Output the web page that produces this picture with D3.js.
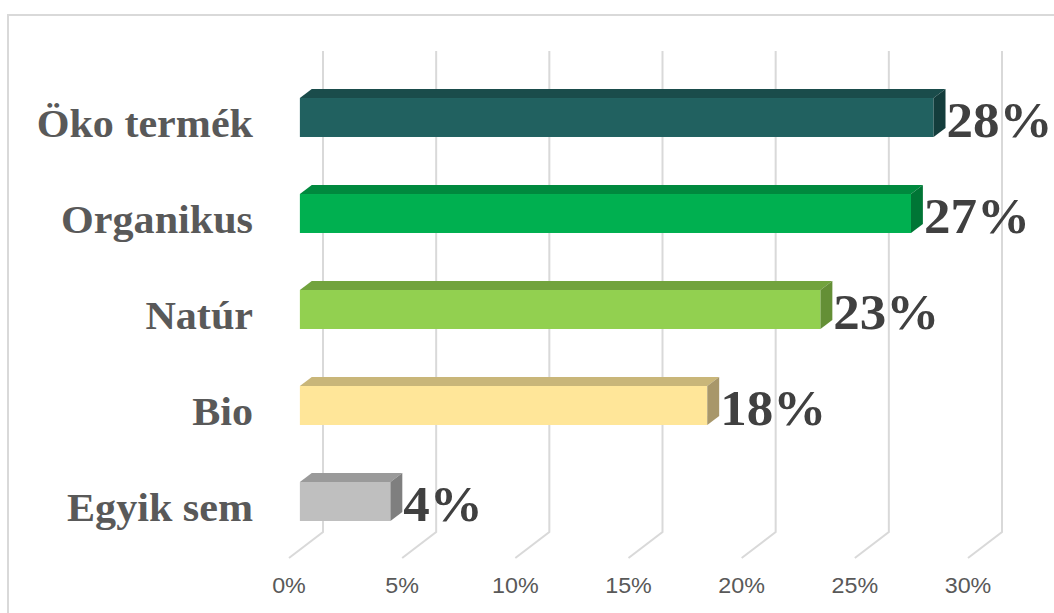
<!DOCTYPE html>
<html>
<head>
<meta charset="utf-8">
<script src="https://cdn.jsdelivr.net/npm/d3@7"></script>
<style>
  html, body { margin: 0; padding: 0; background: #ffffff; }
  svg { display: block; }
</style>
</head>
<body>
<svg id="chart" width="1054" height="613"></svg>
<script>
// Categories, top to bottom
const categories = ["Öko termék", "Organikus", "Natúr", "Bio", "Egyik sem"];
// Share of respondents, percent
const values = [28, 27, 23, 18, 4];
// Axis ticks, percent
const ticks = [0, 5, 10, 15, 20, 25, 30];

// Face colours per bar: front, top, side
const frontColors = ["#216160", "#00b050", "#92d050", "#ffe699", "#bfbfbf"];
const topColors   = ["#1a4c4b", "#00893e", "#72a33e", "#c9b679", "#9a9a9a"];
const sideColors  = ["#143d3c", "#007535", "#648f36", "#a8976a", "#7f7f7f"];

const svg = d3.select("#chart");

// Chart frame
svg.append("rect")
  .attr("x", 8).attr("y", 15)
  .attr("width", 1070).attr("height", 620)
  .attr("fill", "none").attr("stroke", "#d9d9d9").attr("stroke-width", 2);

// 3D layout: floor front edge, depth vector toward the back wall
const floorFrontY = 558;
const depthX = 34, depthY = -26;
const x = d3.scaleLinear().domain([0, 30]).range([289, 968]);
const wallTop = 51;

// Bar depth occupies fraction [d0, d1] of the full depth
const d0 = 0.32, d1 = 0.67;

const y = d3.scaleBand()
  .domain(categories)
  .range([69.5, 69.5 + 480])
  .paddingInner(0.594)
  .paddingOuter(0.297);

// Gridlines: vertical on back wall, diagonal across the floor
const grid = svg.append("g")
  .attr("fill", "none")
  .attr("stroke", "#d9d9d9")
  .attr("stroke-width", 2);
grid.selectAll("path")
  .data(ticks)
  .join("path")
  .attr("d", t => {
    const bx = x(t) + depthX, by = floorFrontY + depthY;
    return `M${bx},${wallTop}L${bx},${by}L${x(t)},${floorFrontY}`;
  });

// Tick labels below the floor front edge (slightly wide lettering)
svg.append("g")
  .selectAll("text")
  .data(ticks)
  .join("text")
  .attr("transform", t => `translate(${x(t)},593) scale(1.06,1)`)
  .attr("text-anchor", "middle")
  .attr("font-family", "'Liberation Sans', Arial, sans-serif")
  .attr("font-size", 22)
  .attr("fill", "#595959")
  .text(t => t + "%");

// Bars as extruded boxes
const ox = depthX * d0, oy = depthY * d0;          // front face offset
const ex = depthX * (d1 - d0), ey = depthY * (d1 - d0); // extrusion toward back
const bh = y.bandwidth();

const bars = svg.append("g")
  .selectAll("g")
  .data(categories.map((c, i) => ({ c, v: values[i], i })))
  .join("g");

// front face
bars.append("rect")
  .attr("x", d => x(0) + ox)
  .attr("y", d => y(d.c))
  .attr("width", d => x(d.v) - x(0))
  .attr("height", bh)
  .attr("fill", d => frontColors[d.i]);

// top face
bars.append("path")
  .attr("d", d => {
    const xl = x(0) + ox, xr = x(d.v) + ox, yt = y(d.c);
    return `M${xl},${yt}L${xl + ex},${yt + ey}L${xr + ex},${yt + ey}L${xr},${yt}Z`;
  })
  .attr("fill", d => topColors[d.i]);

// right side face
bars.append("path")
  .attr("d", d => {
    const xr = x(d.v) + ox, yt = y(d.c), yb = yt + bh;
    return `M${xr},${yt}L${xr + ex},${yt + ey}L${xr + ex},${yb + ey}L${xr},${yb}Z`;
  })
  .attr("fill", d => sideColors[d.i]);

// Value labels
bars.append("text")
  .attr("transform", d => `translate(${x(d.v) + ox + ex + 1},${y(d.c) + bh / 2 + 19.5}) scale(1.04,1)`)
  .attr("font-family", "'Liberation Serif', 'Times New Roman', serif")
  .attr("font-weight", "bold")
  .attr("font-size", 51)
  .attr("fill", "#404040")
  .text(d => d.v + "%");

// Category labels
svg.append("g")
  .selectAll("text")
  .data(categories)
  .join("text")
  .attr("transform", c => `translate(253,${y(c) + bh / 2 + 19}) scale(1.08,1)`)
  .attr("text-anchor", "end")
  .attr("font-family", "'Liberation Serif', 'Times New Roman', serif")
  .attr("font-weight", "bold")
  .attr("font-size", 39)
  .attr("fill", "#595959")
  .text(c => c);
</script>
</body>
</html>
